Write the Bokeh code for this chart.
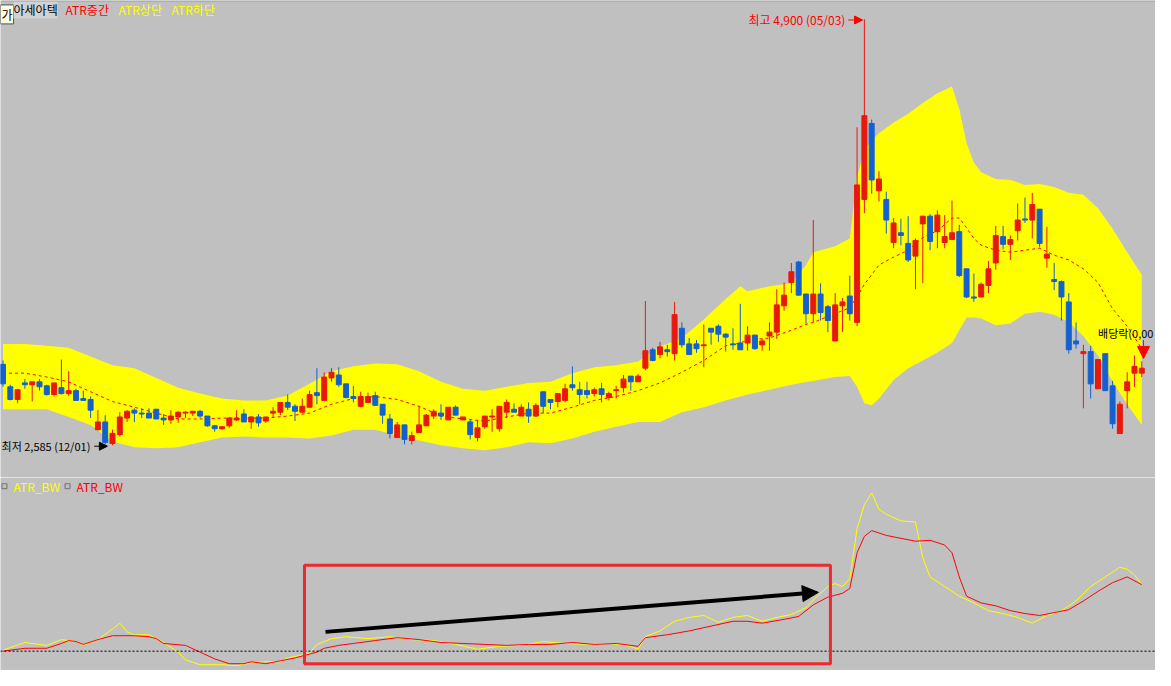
from bokeh.plotting import figure
from bokeh.layouts import column
from bokeh.models import Label, Arrow, NormalHead, Span, Range1d, BoxAnnotation, ColumnDataSource
from bokeh.embed import file_html
from bokeh.resources import INLINE

# ---------------- price data (daily OHLC) ----------------
opens = [3025,2903,2834,2924,2914,2930,2908,2861,2898,2866,2882,2839,2834,2670,2712,2595,2643,2733,2776,2760,
         2760,2781,2733,2723,2739,2760,2760,2770,2744,2691,2675,2691,2723,2755,2712,2739,2717,2760,2765,2818,
         2797,2765,2792,2871,2829,2951,2967,2919,2850,2797,2818,2855,2808,2728,2627,2696,2611,2654,2691,2744,
         2760,2723,2792,2723,2712,2627,2686,2739,2675,2765,2781,2744,2781,2744,2876,2834,2823,2829,2914,2887,
         2882,2866,2892,2845,2882,2898,2961,2930,3004,3104,3078,3104,3083,3221,3136,3136,3126,3221,3232,3189,
         3136,3141,3141,3184,3131,3179,3200,3343,3470,3581,3407,3300,3407,3338,3152,3343,3396,3253,3921,4334,
         3968,3921,3687,3740,3682,3613,3788,3830,3746,3687,3703,3746,3544,3391,3391,3454,3576,3719,3677,3751,
         3815,3809,3868,3602,3486,3475,3364,3152,3083,3094,2892,3083,2908,2649,2882,2977,2977]
highs = [3046,2914,2892,2945,2930,2945,2914,2924,3051,2988,2892,2882,2850,2776,2749,2670,2765,2776,2786,2786,
         2786,2781,2755,2776,2770,2770,2770,2776,2744,2696,2686,2739,2776,2781,2744,2755,2739,2792,2818,2861,
         2808,2839,2882,3004,2982,3004,3009,2919,2908,2876,2871,2876,2808,2755,2712,2696,2659,2797,2755,2781,
         2808,2792,2802,2739,2728,2723,2744,2781,2797,2834,2813,2808,2818,2813,2876,2834,2866,2919,3014,2930,
         2930,2898,2924,2876,2908,2967,2961,2972,3369,3115,3147,3131,3364,3253,3168,3157,3242,3221,3242,3194,
         3221,3354,3232,3184,3163,3253,3433,3470,3576,3587,3407,3809,3465,3348,3412,3385,3507,4313,4900,4355,
         4074,3963,3820,3815,3830,3709,3830,3841,3862,3836,3915,3783,3544,3518,3470,3587,3777,3777,3725,3899,
         3931,3957,3868,3772,3576,3481,3412,3253,3131,3126,3051,3083,2935,2823,2982,3073,3041]
lows = [2903,2829,2813,2892,2823,2882,2855,2850,2861,2855,2829,2829,2733,2665,2590,2585,2633,2712,2712,2733,
        2733,2728,2696,2702,2707,2733,2744,2733,2686,2659,2670,2680,2717,2712,2675,2686,2707,2733,2749,2776,
        2717,2760,2792,2808,2829,2930,2903,2840,2818,2792,2818,2802,2702,2622,2627,2590,2590,2654,2691,2728,
        2723,2723,2749,2723,2617,2606,2675,2659,2659,2733,2765,2744,2707,2739,2760,2781,2792,2818,2882,2808,
        2839,2850,2818,2829,2839,2871,2882,2930,2993,3041,3057,3067,3046,3115,3078,3088,3009,3131,3147,3094,
        3104,3104,3099,3104,3099,3099,3163,3316,3412,3396,3247,3253,3263,3200,3152,3200,3263,3232,3846,3952,
        3910,3735,3656,3672,3581,3433,3465,3645,3656,3656,3703,3500,3385,3364,3391,3412,3539,3650,3592,3698,
        3793,3709,3661,3550,3428,3263,3083,3110,2786,2839,2892,2882,2675,2649,2786,2903,2956]
closes = [2919,2834,2887,2914,2930,2903,2861,2924,2866,2882,2829,2829,2776,2712,2600,2650,2739,2770,2760,2755,
          2733,2728,2723,2744,2765,2765,2770,2744,2691,2675,2686,2733,2733,2712,2739,2707,2739,2770,2818,2792,
          2770,2797,2861,2855,2956,2982,2914,2845,2839,2850,2850,2802,2749,2649,2696,2617,2638,2696,2749,2770,
          2744,2792,2749,2739,2643,2680,2744,2744,2797,2818,2765,2792,2744,2802,2797,2818,2866,2892,2898,2861,
          2861,2887,2861,2866,2887,2945,2930,2961,3099,3046,3120,3094,3295,3131,3078,3110,3131,3200,3189,3173,
          3131,3104,3184,3110,3152,3200,3348,3401,3528,3401,3300,3407,3306,3263,3348,3364,3300,4000,4376,4027,
          4032,3809,3793,3725,3592,3698,3830,3693,3836,3719,3740,3507,3391,3385,3460,3544,3725,3677,3703,3809,
          3809,3894,3682,3624,3475,3391,3104,3136,3094,2919,3051,2882,2702,2808,2930,3014,3004]

# ---------------- ATR band (upper / middle / lower) ----------------
band_idx = [0,3,6,9,12,15,18,21,24,27,30,33,36,39,42,45,48,51,54,57,60,63,66,69,72,75,78,81,84,87,
            90,93,96,99,101,102,105,108,110,111,114,116,117,118,119,120,122,124,126,128,130,131,132,133,134,
            136,138,140,142,144,146,148,150,152,154,156]
atr_upper = [3136,3136,3126,3115,3067,3020,3004,2951,2898,2866,2839,2829,2829,2855,2919,2988,3014,3030,3025,2988,
             2930,2892,2882,2903,2924,2930,2977,3009,3020,3041,3120,3168,3269,3380,3449,3422,3449,3465,3565,3634,
             3666,3709,4042,4191,4244,4281,4339,4387,4445,4498,4535,4413,4228,4122,4069,4032,4027,4000,4005,3989,
             3958,3947,3873,3762,3634,3512]
atr_lower = [2781,2781,2781,2739,2696,2606,2574,2569,2574,2601,2627,2633,2627,2627,2622,2638,2670,2670,2638,2611,
             2585,2569,2558,2574,2601,2596,2622,2659,2686,2712,2712,2765,2792,2829,2850,2861,2887,2914,2929,2935,
             2956,2961,2903,2813,2802,2839,2940,3004,3046,3089,3141,3210,3279,3279,3274,3237,3247,3300,3311,3295,
             3253,3179,3073,2930,2808,2696]
atr_mid = [2977,2977,2956,2930,2876,2823,2792,2760,2728,2728,2733,2733,2733,2744,2760,2808,2839,2850,2834,2797,
           2744,2728,2717,2739,2760,2760,2792,2829,2850,2882,2924,2982,3046,3126,3141,3157,3168,3210,3242,3253,
           3301,3332,3391,3460,3512,3565,3608,3645,3714,3751,3820,3820,3767,3709,3672,3645,3634,3645,3656,3618,
           3592,3544,3470,3327,3232,3110]

# ---------------- ATR_BW indicator (lower pane) ----------------
bw_y_idx = [0,3,6,8,10,11,13,15,16,17,18,20,22,24,25,27,30,32,34,36,38,39,41,42,43,45,47,50,53,56,
            59,62,65,68,71,74,77,80,83,86,87,88,90,92,94,96,98,100,102,104,106,108,110,111,113,114,115,116,
            117,118,119,120,121,123,125,126,127,129,131,133,135,137,139,141,143,145,147,149,151,153,154,155,156]
bw_yellow = [10.25,12.25,11.5,13,12.5,11.5,13,15.75,17.25,15,14.25,14.25,12.25,9.75,7.75,6.5,6.5,6.25,7,7.25,
             7.25,8.25,9,9.5,11.75,13.25,13.75,13.25,13.75,13,12.75,11.75,10.5,11.25,11.5,12.5,12,11.75,12,11.25,
             10.5,13.75,15.25,17.75,18.75,19.25,17.5,18.75,19.25,17.75,18.75,19.5,21.25,23.25,26.75,27.5,26.75,28.75,
             41.75,48,51,46.75,45.5,43.75,43.5,34.25,29.25,26.75,24.25,22.5,20.5,19.75,18.75,17.25,19.25,20.5,23,
             26.75,29.25,31.75,31.25,29.75,27.25]
bw_r_idx = [0,3,6,8,9,10,11,13,15,18,20,21,22,25,27,29,31,33,34,36,38,40,42,43,44,46,48,51,54,57,
            60,63,66,69,72,75,78,81,84,87,88,91,94,97,100,102,104,107,109,111,113,115,116,117,118,119,121,123,
            125,127,129,130,131,132,134,136,138,140,142,144,146,148,150,152,154,156]
bw_red = [10,10.75,10.75,12,12.75,12.5,11.75,13,14,14,13.75,13.25,12,11.5,9.75,8,6.75,6.75,7.25,6.75,
          7.5,8.25,9.25,9.75,10.75,11.5,12,12.75,13.5,13,12.25,12,11.75,11.5,11.75,11.75,12.25,11.75,12,11.25,
          13.5,14.25,15.25,16.5,17.75,17.75,17.25,18.25,19,22,24,25,26.25,35.5,39.75,41.25,40,39.25,38.5,38.75,
          37.5,35.5,29.25,24.25,22.5,21.75,20.5,19.75,19.25,20,20.75,23,25.5,27.75,29.25,27.25]
bw_base = 10

stock_name = "아세아텍"
hi_text = "최고 4,900 (05/03)"
lo_text = "최저 2,585 (12/01)"
div_text = "배당락(0,00"

UP = "#e8180c"
DOWN = "#1560d0"
BG = "#c0c0c0"
KFONT = "Noto Sans CJK KR"

idx = list(range(len(opens)))
cols = [UP if c >= o else DOWN for o, c in zip(opens, closes)]
tops = [max(o, c) for o, c in zip(opens, closes)]
bots = [min(o, c) for o, c in zip(opens, closes)]
src = ColumnDataSource(dict(x=idx, o=opens, h=highs, l=lows, c=closes, col=cols, top=tops, bot=bots))

W = 1155
p = figure(width=W, height=477, x_range=Range1d(-0.3425, 157.88), y_range=Range1d(2410.1, 4996.5),
           output_backend="svg", toolbar_location=None, x_axis_location=None, y_axis_location=None,
           min_border=0, min_border_top=1)
p.background_fill_color = BG
p.border_fill_color = "#404040"
p.outline_line_color = None
p.grid.visible = False

p.varea(x=band_idx, y1=atr_lower, y2=atr_upper, fill_color="#ffff00")
p.line(band_idx, atr_mid, line_color="#ff0000", line_dash="3 3", line_width=1)
p.segment(x0="x", y0="l", x1="x", y1="h", line_color="col", line_width=1, source=src)
p.vbar(x="x", width=0.68, top="top", bottom="bot", fill_color="col", line_color="col", line_width=1, source=src)

# legend row
p.add_layout(Label(x=-0.34, y=4978, text="가", text_baseline="top", text_font=KFONT, text_font_size="12px",
                   text_color="black", background_fill_color="#ffffe6", border_line_color="#505050",
                   padding=1))
p.add_layout(Label(x=1.44, y=4997, text=stock_name, text_baseline="top", text_font=KFONT, text_font_size="12px",
                   text_color="black", background_fill_color="#d2d2d2"))
for xx, t, c in [(8.56, "ATR중간", "#ff0000"), (15.82, "ATR상단", "#ffff00"), (23.08, "ATR하단", "#ffff00")]:
    p.add_layout(Label(x=xx, y=4997, text=t, text_baseline="top", text_font=KFONT, text_font_size="12px",
                       text_color=c))

# high / low / dividend annotations
p.add_layout(Label(x=115.4, y=4896, text=hi_text, text_align="right", text_baseline="middle", text_font=KFONT,
                   text_font_size="12px", text_color="#ff0000"))
p.add_layout(Arrow(end=NormalHead(size=8, fill_color="#ff0000", line_color="#ff0000"), x_start=115.8, y_start=4896,
                   x_end=117.75, y_end=4896, line_color="#ff0000", line_width=1))
p.add_layout(Label(x=-0.2, y=2580, text=lo_text, text_align="left", text_baseline="middle", text_font=KFONT,
                   text_font_size="11px", text_color="black"))
p.add_layout(Arrow(end=NormalHead(size=8, fill_color="black", line_color="black"), x_start=12.5, y_start=2580,
                   x_end=14.3, y_end=2580, line_color="black", line_width=1))
p.add_layout(Label(x=157.6, y=3194, text=div_text, text_align="right", text_baseline="middle", text_font=KFONT,
                   text_font_size="11px", text_color="black"))
p.add_layout(Arrow(end=NormalHead(size=12, fill_color="#ff0000", line_color="#ff0000"), x_start=156.23, y_start=3157,
                   x_end=156.23, y_end=3057, line_color="#ff0000", line_width=1))

# ---------------- lower pane ----------------
q = figure(width=W, height=193, x_range=p.x_range, y_range=Range1d(5.25, 54.75),
           output_backend="svg", toolbar_location=None, x_axis_location=None, y_axis_location=None,
           min_border=0, min_border_top=1, min_border_bottom=1)
q.background_fill_color = BG
q.border_fill_color = "#8a8a8a"
q.outline_line_color = None
q.grid.visible = False

q.add_layout(Span(location=bw_base, dimension="width", line_color="black", line_dash="2 2", line_width=1))
q.line(bw_y_idx, bw_yellow, line_color="#ffff00", line_width=1)
q.line(bw_r_idx, bw_red, line_color="#ff0000", line_width=1)

q.add_layout(BoxAnnotation(left=41.3, right=113.35, bottom=6.75, top=32.25, fill_alpha=0,
                           line_color="#ec2a2e", line_alpha=1, line_width=3))
q.add_layout(Arrow(end=NormalHead(size=16, fill_color="black", line_color="black"), x_start=44.18, y_start=15,
                   x_end=111.7, y_end=25.25, line_color="black", line_width=4))

q.scatter([0.2, 8.84], [52.75, 52.75], marker="square", size=5, fill_color=None, line_color="#707070")
q.add_layout(Label(x=1.44, y=52.75, text="ATR_BW", text_baseline="middle", text_font=KFONT,
                   text_font_size="12px", text_color="#ffff00"))
q.add_layout(Label(x=10.07, y=52.75, text="ATR_BW", text_baseline="middle", text_font=KFONT,
                   text_font_size="12px", text_color="#ff0000"))

layout = column(p, q, spacing=0)
open("out.html", "w").write(file_html(layout, INLINE))
